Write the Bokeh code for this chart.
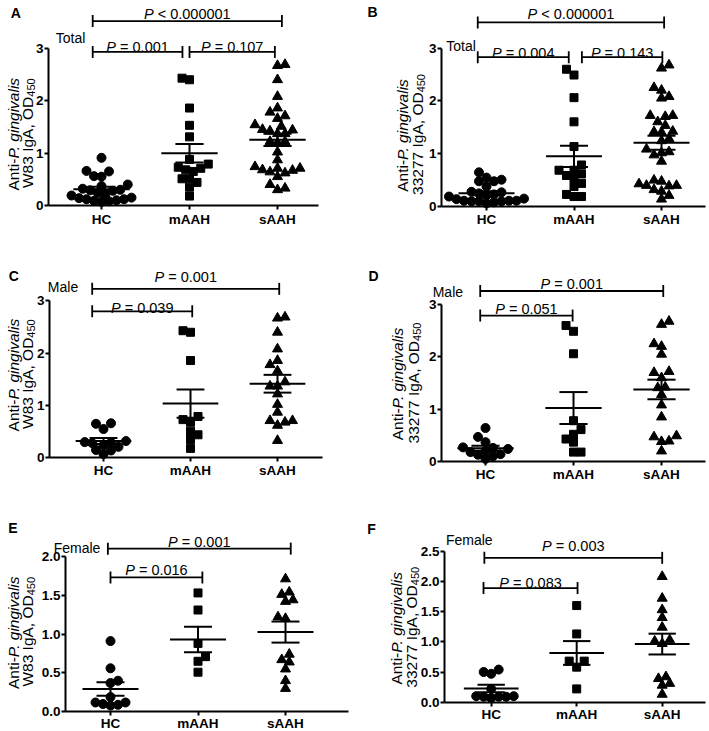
import numpy as np
from bokeh.plotting import figure
from bokeh.layouts import column, row
from bokeh.models import Label, FixedTicker, Range1d, NumeralTickFormatter
from bokeh.embed import file_html
from bokeh.resources import INLINE

# ---------------- data ----------------
categories = ["HC", "mAAH", "sAAH"]

# Anti-P. gingivalis W83 IgA, OD450
w83_male_hc = [0.66, 0.65, 0.55, 0.32, 0.30, 0.29, 0.28, 0.24, 0.21, 0.15, 0.14, 0.07]
w83_male_maah = [2.43, 2.40, 1.86, 0.79, 0.73, 0.68, 0.51, 0.44, 0.35, 0.18]
w83_male_saah = [2.69, 2.67, 2.40, 2.08, 1.86, 1.78, 1.66, 1.45, 1.37, 1.37, 1.22, 1.02,
                 0.87, 0.71, 0.68, 0.62, 0.71, 0.33]
w83_female_hc = [0.91, 0.56, 0.40, 0.37, 0.19, 0.12, 0.12, 0.10, 0.09, 0.08]
w83_female_maah = [1.53, 1.31, 0.88, 0.71, 0.65, 0.51]
w83_female_saah = [1.71, 1.54, 1.51, 1.44, 1.42, 1.22, 1.20, 0.74, 0.67, 0.64, 0.55, 0.40, 0.30]

# Anti-P. gingivalis 33277 IgA, OD450
s33277_male_hc = [0.64, 0.47, 0.37, 0.27, 0.26, 0.24, 0.20, 0.18, 0.14, 0.13, 0.10, 0.05]
s33277_male_maah = [2.60, 2.49, 2.06, 0.78, 0.61, 0.52, 0.43, 0.37, 0.18, 0.18]
s33277_male_saah = [2.68, 2.62, 2.25, 2.20, 2.05, 1.72, 1.70, 1.60, 1.42, 1.41, 1.28, 1.08,
                    0.85, 0.49, 0.47, 0.39, 0.38, 0.20]
s33277_female_hc = [0.54, 0.50, 0.47, 0.22, 0.10, 0.10, 0.09, 0.09, 0.09, 0.07]
s33277_female_maah = [1.60, 1.13, 0.68, 0.68, 0.58, 0.22]
s33277_female_saah = [2.08, 1.72, 1.53, 1.40, 1.24, 1.03, 1.01, 0.97, 0.42, 0.39, 0.31, 0.28, 0.13]

# P values shown on the brackets
p_values_A = ["< 0.000001", "= 0.001", "= 0.107"]
p_values_B = ["< 0.000001", "= 0.004", "= 0.143"]
p_values_C = ["= 0.001", "= 0.039"]
p_values_D = ["= 0.001", "= 0.051"]
p_values_E = ["= 0.001", "= 0.016"]
p_values_F = ["= 0.003", "= 0.083"]

panel_letters = ["A", "B", "C", "D", "E", "F"]
group_titles = ["Total", "Total", "Male", "Male", "Female", "Female"]
strain_names = ["W83", "33277", "W83", "33277", "W83", "33277"]

# ---------------- helpers ----------------
FONT = "Liberation Sans"
AW = {' ': 278, ',': 278, '-': 333, '.': 278, '<': 584, '=': 584, 'A': 667, 'C': 722,
      'D': 722, 'F': 611, 'H': 722, 'I': 278, 'M': 833, 'O': 778, 'P': 667, 'T': 611,
      'W': 944, 'a': 556, 'e': 556, 'g': 556, 'i': 222, 'l': 222, 'm': 833, 'n': 556,
      's': 500, 't': 278, 'v': 500, 'o': 556}


def tw(s, size):
    return sum(AW.get(c, 556) for c in s) * size / 1000.0


def swarm(vals, ppu, sp, d=7.5):
    vals = np.asarray(vals, float)
    ys = vals * ppu
    order = np.argsort(vals)
    px, py = [], []
    xs = np.zeros(len(vals))
    step = d * 0.5
    flip = 1
    for i in order:
        chosen = None
        for j in range(0, 60):
            cands = [0.0] if j == 0 else [flip * j * step, -flip * j * step]
            for c in cands:
                if all((c - a) ** 2 + (ys[i] - b) ** 2 >= d * d for a, b in zip(px, py)):
                    chosen = c
                    break
            if chosen is not None:
                break
        if chosen != 0:
            flip = -flip
        xs[i] = chosen
        px.append(chosen)
        py.append(ys[i])
    return xs / sp


def lab(p, x, y, text, size, style="normal", align="left", angle=0.0):
    p.add_layout(Label(x=x, y=y, text=text, text_font=FONT, text_font_size=f"{size}px",
                       text_font_style=style, text_align=align, text_baseline="alphabetic",
                       angle=angle, text_color="black"))


# ---------------- panel layout settings ----------------
specs = [
    dict(data=[w83_male_hc + w83_female_hc, w83_male_maah + w83_female_maah, w83_male_saah + w83_female_saah],
         pv=p_values_A, yticks=[0, 1, 2, 3], fmt="0",
         fig=(0, 0, 355, 240), hc=101, sp=88, y0=205, ppu=52.4, ax=(48, 318),
         letter_pos=(-1.03, 3.68), group_pos=(-0.52, 3.19),
         br=[(-0.10, 2.05, 3.52, 3.66), (-0.10, 0.92, 2.93, 3.03), (1.00, 1.97, 2.93, 3.03)],
         ylab=(13, 27, 1.38), xstand=2),
    dict(data=[s33277_male_hc + s33277_female_hc, s33277_male_maah + s33277_female_maah,
               s33277_male_saah + s33277_female_saah],
         pv=p_values_B, yticks=[0, 1, 2, 3], fmt="0",
         fig=(355, 0, 353, 240), hc=486, sp=87.5, y0=205.5, ppu=52.6, ax=(441, 705),
         letter_pos=(-1.36, 3.68), group_pos=(-0.46, 3.05),
         br=[(-0.10, 2.03, 3.49, 3.65), (-0.10, 0.94, 2.83, 2.90), (1.09, 2.01, 2.83, 2.90)],
         ylab=(402, 417, 1.36), xstand=2),
    dict(data=[w83_male_hc, w83_male_maah, w83_male_saah],
         pv=p_values_C, yticks=[0, 1, 2, 3], fmt="0",
         fig=(0, 240, 355, 243), hc=103, sp=87, y0=457.3, ppu=52.3, ax=(49, 322),
         letter_pos=(-1.09, 3.47), group_pos=(-0.64, 3.26),
         br=[(-0.13, 2.02, 3.23, 3.45), (-0.13, 1.02, 2.80, 2.86)],
         ylab=(13, 27, 1.6), xstand=1),
    dict(data=[s33277_male_hc, s33277_male_maah, s33277_male_saah],
         pv=p_values_D, yticks=[0, 1, 2, 3], fmt="0",
         fig=(355, 240, 353, 243), hc=485, sp=88, y0=461, ppu=52.3, ax=(441, 705),
         letter_pos=(-1.33, 3.54), group_pos=(-0.60, 3.24),
         br=[(-0.06, 2.02, 3.26, 3.40), (-0.06, 0.99, 2.79, 2.92)],
         ylab=(397, 413, 1.5), xstand=1),
    dict(data=[w83_female_hc, w83_female_maah, w83_female_saah],
         pv=p_values_E, yticks=[0, 0.5, 1.0, 1.5, 2.0], fmt="0.0",
         fig=(0, 483, 355, 248), hc=110, sp=87.5, y0=711.3, ppu=77.7, ax=(65, 348),
         letter_pos=(-1.17, 2.37), group_pos=(-0.65, 2.11),
         br=[(-0.03, 2.06, 2.10, 2.18), (0.00, 1.05, 1.73, 1.82)],
         ylab=(12.5, 27, 1.03), xstand=0),
    dict(data=[s33277_female_hc, s33277_female_maah, s33277_female_saah],
         pv=p_values_F, yticks=[0, 0.5, 1.0, 1.5, 2.0, 2.5], fmt="0.0",
         fig=(355, 483, 353, 248), hc=490.7, sp=85.5, y0=701.7, ppu=60.4, ax=(444, 705),
         letter_pos=(-1.45, 2.87), group_pos=(-0.53, 2.69),
         br=[(-0.08, 2.00, 2.39, 2.58), (-0.09, 1.01, 1.89, 1.98)],
         ylab=(396, 411, 1.24), xstand=1),
]

markers = ["circle", "square", "triangle"]
msizes = [9, 8, 10]

figs = []
for k, s in enumerate(specs):
    left, top, w, h = s["fig"]
    hc, sp, y0, ppu = s["hc"], s["sp"], s["y0"], s["ppu"]
    axL, axR = s["ax"]
    p = figure(width=w, height=h,
               x_range=Range1d((left - hc) / sp, (left + w - hc) / sp),
               y_range=Range1d((y0 - (top + h)) / ppu, (y0 - top) / ppu),
               output_backend="svg", toolbar_location=None,
               min_border_left=0, min_border_right=0, min_border_top=0, min_border_bottom=0)
    p.min_border = 0
    p.outline_line_color = None
    p.xgrid.visible = False
    p.ygrid.visible = False
    p.background_fill_color = "white"

    # axes (drawn inside the frame at fixed locations)
    p.xaxis.ticker = FixedTicker(ticks=[0, 1, 2])
    p.xaxis.major_label_overrides = {0: categories[0], 1: categories[1], 2: categories[2]}
    p.xaxis.fixed_location = 0
    p.xaxis.bounds = ((axL - hc) / sp, (axR - hc) / sp)
    p.yaxis.ticker = FixedTicker(ticks=s["yticks"])
    p.yaxis.formatter = NumeralTickFormatter(format=s["fmt"])
    p.yaxis.bounds = (0, s["yticks"][-1])
    p.yaxis.fixed_location = (axL - hc) / sp
    for ax in (p.xaxis, p.yaxis):
        ax.axis_line_width = 2
        ax.axis_line_color = "black"
        ax.major_tick_line_width = 2
        ax.major_tick_line_color = "black"
        ax.major_tick_in = 0
        ax.minor_tick_line_color = None
        ax.major_label_text_font = FONT
        ax.major_label_text_font_style = "bold"
        ax.major_label_text_font_size = "13.5px"
        ax.major_label_text_color = "black"
    p.xaxis.major_tick_out = 4
    p.xaxis.major_label_standoff = s["xstand"]
    p.yaxis.major_tick_out = 4
    p.yaxis.major_label_standoff = 1

    # points, mean and SEM
    for g, vals in enumerate(s["data"]):
        v = np.asarray(vals, float)
        xs = g + swarm(v, ppu, sp)
        p.scatter(xs, v, marker=markers[g], size=msizes[g], color="black")
        m = v.mean()
        sem = v.std(ddof=1) / np.sqrt(len(v))
        p.segment(x0=[g - 0.32], y0=[m], x1=[g + 0.32], y1=[m], line_width=2, line_color="black")
        p.segment(x0=[g, g - 0.16, g - 0.16], y0=[m - sem, m - sem, m + sem],
                  x1=[g, g + 0.16, g + 0.16], y1=[m + sem, m - sem, m + sem],
                  line_width=2, line_color="black")

    # significance brackets
    hh = 6.0 / ppu
    for (xa, xb, yb, yt), ptxt in zip(s["br"], s["pv"]):
        p.segment(x0=[xa, xa, xb], y0=[yb, yb - hh, yb - hh], x1=[xb, xa, xb], y1=[yb, yb + hh, yb + hh],
                  line_width=1.8, line_color="black")
        size = 14.5
        wP = tw("P ", size)
        wall = wP + tw(ptxt, size)
        cx = (xa + xb) / 2 * sp
        x_start = (cx - wall / 2) / sp
        lab(p, x_start, yt, "P", size, style="italic")
        lab(p, x_start + wP / sp, yt, ptxt, size)

    # panel letter and group title
    lab(p, s["letter_pos"][0], s["letter_pos"][1], panel_letters[k], 14, style="bold")
    lab(p, s["group_pos"][0], s["group_pos"][1], group_titles[k], 14)

    # y axis title (two rotated lines)
    fs = 15.5
    bx1, bx2, cyv = s["ylab"]
    cy = y0 - cyv * ppu  # screen px of label centre
    l1a, l1b = "Anti-", "P. gingivalis"
    L1 = tw(l1a, fs) + tw(l1b, fs)
    ystart1 = y0 - (cy + L1 / 2)
    xv1 = (bx1 - hc) / sp
    lab(p, xv1, ystart1 / ppu, l1a, fs, angle=np.pi / 2)
    lab(p, xv1, (ystart1 + tw(l1a, fs)) / ppu, l1b, fs, style="italic", angle=np.pi / 2)
    l2 = f"{strain_names[k]} IgA, OD"
    sub = "450"
    fsub = 11
    L2 = tw(l2, fs) + tw(sub, fsub)
    ystart2 = y0 - (cy + L2 / 2)
    xv2 = (bx2 - hc) / sp
    lab(p, xv2, ystart2 / ppu, l2, fs, angle=np.pi / 2)
    lab(p, xv2 + 3.5 / sp, (ystart2 + tw(l2, fs)) / ppu, sub, fsub, angle=np.pi / 2)

    figs.append(p)

layout = column(row(figs[0], figs[1]), row(figs[2], figs[3]), row(figs[4], figs[5]))
open("out.html", "w").write(file_html(layout, INLINE))
